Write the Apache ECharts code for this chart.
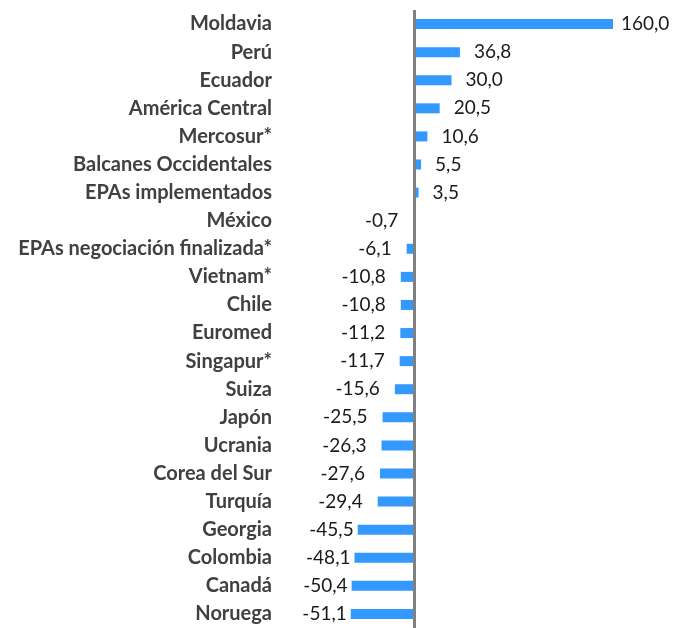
<!DOCTYPE html>
<html>
<head>
<meta charset="utf-8">
<script src="https://cdn.jsdelivr.net/npm/echarts@6/dist/echarts.min.js"></script>
<style>
  html, body { margin: 0; padding: 0; background: #fff; }
  #chart { width: 675px; height: 628px; }
</style>
</head>
<body>
<div id="chart"></div>
<script>
const categories = [
  'Moldavia', 'Perú', 'Ecuador', 'América Central', 'Mercosur*',
  'Balcanes Occidentales', 'EPAs implementados', 'México',
  'EPAs negociación finalizada*', 'Vietnam*', 'Chile', 'Euromed',
  'Singapur*', 'Suiza', 'Japón', 'Ucrania', 'Corea del Sur', 'Turquía',
  'Georgia', 'Colombia', 'Canadá', 'Noruega'
];
const values = [
  160.0, 36.8, 30.0, 20.5, 10.6, 5.5, 3.5, -0.7, -6.1, -10.8, -10.8,
  -11.2, -11.7, -15.6, -25.5, -26.3, -27.6, -29.4, -45.5, -48.1, -50.4, -51.1
];

const fmt = v => v.toFixed(1).replace('.', ',');

// labels near the chart edges sit closer to the bar end
const labelDistance = v => {
  if (v >= 100) return 8;
  if (v <= -45) return 4;
  return v < 0 ? 15 : 14;
};

const chart = echarts.init(document.getElementById('chart'));

chart.setOption({
  animation: false,
  grid: { left: 290, right: 62, top: 10, bottom: -3, containLabel: false },
  xAxis: {
    type: 'value',
    min: -100,
    max: 160,
    show: false
  },
  yAxis: {
    type: 'category',
    data: categories,
    inverse: true,
    axisLine: { show: false },
    axisTick: { show: false },
    splitLine: { show: false },
    axisLabel: {
      margin: 18,
      color: '#404040',
      fontFamily: 'Lato',
      fontWeight: 'bold',
      fontSize: 20
    }
  },
  series: [
    {
      type: 'bar',
      barWidth: 10,
      data: values.map(v => ({
        value: v,
        label: {
          position: v < 0 ? 'left' : 'right',
          distance: labelDistance(v)
        }
      })),
      itemStyle: { color: '#3399ff' },
      label: {
        show: true,
        color: '#1a1a1a',
        fontFamily: 'Lato',
        fontSize: 19,
        formatter: p => fmt(p.value)
      },
      markLine: {
        silent: true,
        symbol: 'none',
        label: { show: false },
        lineStyle: { color: '#808080', width: 3, type: 'solid' },
        data: [{ xAxis: 0 }]
      }
    }
  ]
});
</script>
</body>
</html>
